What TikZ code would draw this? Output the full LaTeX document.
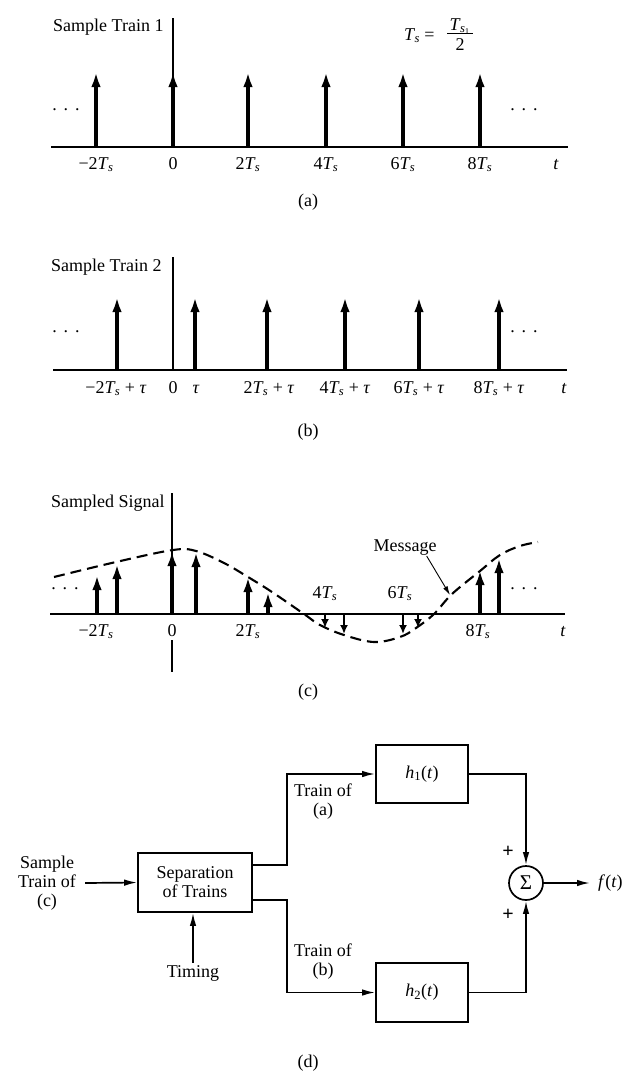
\documentclass[tikz,border=0pt]{standalone}
\usepackage{fontspec}
\setmainfont{Liberation Serif}
\usetikzlibrary{arrows.meta,calc}
\newcommand{\Tsub}[1]{\textit{T}\kern-0.04em\textsubscript{\textit{#1}}}
\newcommand{\Ts}{\Tsub{s}}
\newcommand{\tauc}{\textit{τ}}
\newcommand{\threedots}{.\hspace{7pt}.\hspace{7pt}.}
\begin{document}
\begin{tikzpicture}[x=1pt,y=-1pt,
  every node/.style={font=\fontsize{18}{20}\selectfont, inner sep=1pt},
  lbl/.style={anchor=base},
  stem/.style={line width=3.8pt, -{Latex[length=15pt,width=9.5pt]}},
  dstem/.style={line width=2.8pt, -{Latex[length=9pt,width=8pt]}},
  baseln/.style={line width=2.5pt},
  axisln/.style={line width=1.4pt},
  msgcurve/.style={line width=2.1pt, dash pattern=on 11pt off 6pt},
  msgarr/.style={line width=0.9pt, -{Latex[length=9pt,width=5pt]}},
  blockbox/.style={draw, line width=1.7pt, inner sep=0pt, align=center},
  conn/.style={line width=1.7pt, -{Latex[length=13pt,width=6.5pt]}},
  plus/.style={font=\fontsize{20}{20}\selectfont\bfseries}
]
\useasboundingbox (0,0) rectangle (625,1074);

% ---------------- (a) ----------------
\draw[axisln] (173,18) -- (173,147);
\draw[baseln] (51,147) -- (568,147);
\foreach \x in {96,173,248,326,403,480} \draw[stem] (\x,147) -- (\x,72);
\node[anchor=base west] (sa) at (52,31) {Sample Train 1};
\node[anchor=base west] (tsa) at (403,40) {\Ts\ =};
\node[lbl] (tsn) at (460,30) {\textit{T}\kern-0.04em\textsubscript{\textit{s}\textsubscript{1}}};
\draw[line width=0.8pt] (447,33) -- (473,33);
\node[lbl] (tsd) at (460,50) {2};
\node[lbl] (da1) at (66,110) {\threedots};
\node[lbl] (da2) at (524,110) {\threedots};
\node[lbl] (a1) at (96,169) {−2\Ts};
\node[lbl] (a2) at (173,169) {0};
\node[lbl] (a3) at (248,169) {2\Ts};
\node[lbl] (a4) at (326,169) {4\Ts};
\node[lbl] (a5) at (403,169) {6\Ts};
\node[lbl] (a6) at (480,169) {8\Ts};
\node[lbl] (a7) at (556,169) {\textit{t}};
\node (capa) at (308,202) {(a)};

% ---------------- (b) ----------------
\draw[axisln] (173,257) -- (173,370);
\draw[baseln] (53,370) -- (567,370);
\foreach \x in {117,195,267,345,419,499} \draw[stem] (\x,370) -- (\x,297);
\node[anchor=base west] (sb) at (50,271) {Sample Train 2};
\node[lbl] (db1) at (66,332) {\threedots};
\node[lbl] (db2) at (524,332) {\threedots};
\node[lbl] (b1) at (116,393) {−2\Ts\ + \tauc};
\node[lbl] (b2) at (173,393) {0};
\node[lbl] (b3) at (196,393) {\tauc};
\node[lbl] (b4) at (269,393) {2\Ts\ + \tauc};
\node[lbl] (b5) at (345,393) {4\Ts\ + \tauc};
\node[lbl] (b6) at (419,393) {6\Ts\ + \tauc};
\node[lbl] (b7) at (499,393) {8\Ts\ + \tauc};
\node[lbl] (b8) at (564,393) {\textit{t}};
\node (capb) at (308,432) {(b)};

% ---------------- (c) ----------------
\draw[axisln] (172,493) -- (172,614);
\draw[axisln] (172,640) -- (172,672);
\draw[baseln] (50,614) -- (565,614);
\foreach \x/\y in {97/575,117/564,172/551,196/552,248/577,268/592,480/570,499/558}
  \draw[stem] (\x,614) -- (\x,\y);
\foreach \x/\y in {325/628,344/634,403/634,418/628}
  \draw[dstem] (\x,614) -- (\x,\y);
\draw[msgcurve] plot[smooth, tension=0.6] coordinates {
  (54,577) (116,562) (173,550) (196,551) (224,563) (248,577) (272,592)
  (304,614) (320,625) (344,635) (374,642) (400,637) (416,628) (434,614)
  (452,594) (480,571) (500,555) (520,546) (538,542)};
\node[anchor=base west] (sc) at (50,507) {Sampled Signal};
\node[lbl] (msg) at (405,551) {Message};
\coordinate (mtip) at (450,595);
\draw[msgarr] ($(msg.south east)+(-11,0)$) -- (mtip);
\node[lbl] (c4) at (325,598) {4\Ts};
\node[lbl] (c6) at (400,598) {6\Ts};
\node[lbl] (dc1) at (65,589) {\threedots};
\node[lbl] (dc2) at (524,589) {\threedots};
\node[lbl] (c1) at (96,636) {−2\Ts};
\node[lbl] (c2) at (172,636) {0};
\node[lbl] (c3) at (248,636) {2\Ts};
\node[lbl] (c5) at (478,636) {8\Ts};
\node[lbl] (c7) at (563,636) {\textit{t}};
\node (capc) at (308,692) {(c)};

% ---------------- (d) ----------------
\node[blockbox, minimum width=114pt, minimum height=59pt] (sep) at (195,882.5)
  {Separation\\[-1pt]of Trains};
\node[blockbox, minimum width=92pt, minimum height=58pt] (h1) at (422,774)
  {\textit{h}\textsubscript{1}(\textit{t})};
\node[blockbox, minimum width=92pt, minimum height=59pt] (h2) at (422,992.5)
  {\textit{h}\textsubscript{2}(\textit{t})};
\node[draw, circle, line width=1.7pt, minimum size=34pt, inner sep=0pt,
  font=\fontsize{21}{21}\selectfont] (sig) at (526,883) {Σ};
\node[align=center] (inp) at (47,883) {Sample\\[-1pt]Train of\\[-1pt](c)};
\node (timing) at (193,973) {Timing};
\node[align=center] (tra) at (323,802) {Train of\\[-1pt](a)};
\node[align=center] (trb) at (323,962) {Train of\\[-1pt](b)};
\node[plus] (p1) at (508,852) {+};
\node[plus] (p2) at (508,915) {+};
\node[anchor=west, inner sep=0pt] (ft) at (598,883) {\textit{f}(\textit{t})};

\draw[conn] ([xshift=8pt]inp.east) -- (sep.west);
\draw[conn] ([yshift=1pt]timing.north) -- (timing.north |- sep.south);
\draw[conn] ([yshift=17.5pt]sep.east) -- ++(34,0) |- (h1.west);
\draw[conn] ([yshift=-17.5pt]sep.east) -- ++(34,0) |- (h2.west);
\draw[conn] (h1.east) -| (sig.north);
\draw[conn] (h2.east) -| (sig.south);
\draw[conn] (sig.east) -- ([xshift=-8pt]ft.west);
\node (capd) at (308,1063) {(d)};
\end{tikzpicture}
\end{document}
